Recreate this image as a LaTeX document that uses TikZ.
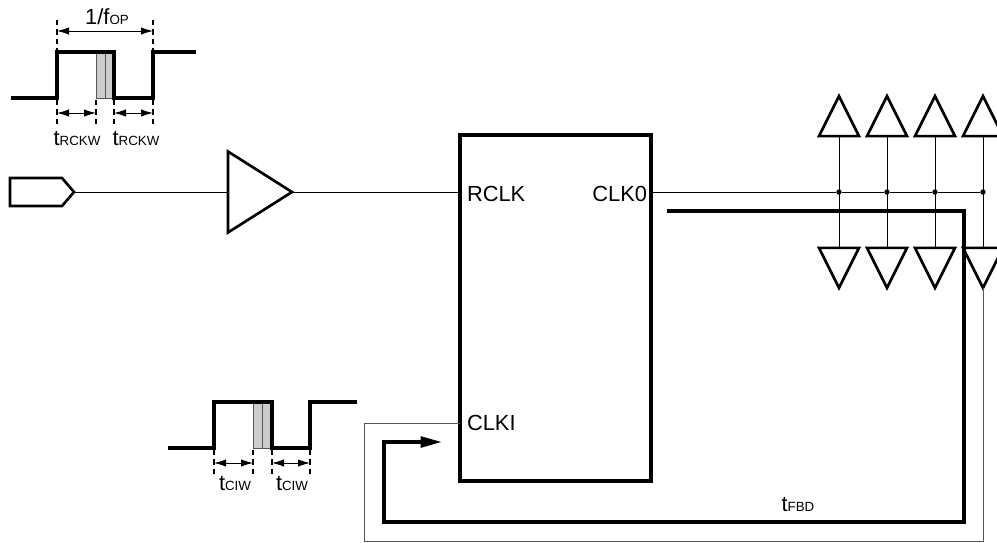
\documentclass[tikz,border=0pt]{standalone}
\usepackage{xcolor}
\usepackage{fontspec}
\setmainfont{Liberation Sans}
\usepackage{tikz}
\usetikzlibrary{arrows.meta,positioning,shapes.geometric,shapes.symbols}
\definecolor{LineGray}{HTML}{555555}
\definecolor{ShadeGray}{HTML}{CCCCCC}
\newcommand{\sigtext}[2]{#1{\fontsize{10pt}{11pt}\selectfont #2}}

\begin{document}
\begin{tikzpicture}[
    x=0.75pt, y=-0.75pt,
    font=\fontsize{16.4pt}{18pt}\selectfont,
    lbl/.style={inner sep=0pt, outer sep=0pt},
    inport/.style={signal, signal to=east, signal from=nowhere, signal pointer angle=99, draw, line width=2pt, inner sep=0pt, outer sep=0pt, minimum width=48pt, minimum height=21pt},
    bufmain/.style={isosceles triangle, isosceles triangle apex angle=64.6, isosceles triangle stretches, draw, line width=2pt, inner sep=0pt, outer sep=0pt, minimum width=60.75pt, minimum height=48pt},
    bufup/.style={isosceles triangle, shape border rotate=90, isosceles triangle apex angle=53.13, isosceles triangle stretches, draw, line width=2pt, inner sep=0pt, outer sep=0pt, minimum width=30pt, minimum height=30pt},
    bufdown/.style={bufup, shape border rotate=270},
    chip/.style={rectangle, draw, line width=2.6pt, inner sep=0pt, outer sep=0pt, minimum width=143.25pt, minimum height=259.5pt},
    junction/.style={circle, fill=black, inner sep=0pt, outer sep=0pt, minimum size=4pt},
    wire/.style={line width=0.7pt},
    loopwire/.style={line width=0.7pt, draw=LineGray},
    wave/.style={line width=2.6pt, line join=miter},
    shade/.style={fill=ShadeGray, draw=LineGray, line width=0.75pt},
    guide/.style={line width=0.8pt, dash pattern=on 4pt off 3pt},
    span/.style={{Latex[length=9pt,width=5.5pt]}-{Latex[length=9pt,width=5.5pt]}, line width=0.7pt},
    feedback/.style={-{Triangle[length=16pt,width=8pt]}, line width=2.6pt}
]
\useasboundingbox (0,0) rectangle (997,543);

% upper waveform
\filldraw[shade] (96,52) rectangle (114,98);
\draw[draw=LineGray, line width=0.75pt] (105,52) -- (105,98);
\draw[wave] (11,98) -- (57,98) -- (57,52) -- (114,52) -- (114,98) -- (153,98) -- (153,52) -- (196,52);
\coordinate (fopa) at (57,31);
\coordinate (fopb) at (153,31);
\coordinate (rwa) at (57,113);
\coordinate (rwb) at (96,113);
\coordinate (rwc) at (114,113);
\coordinate (rwd) at (153,113);
\draw[guide] (57,20) -- (57,52);
\draw[guide] (153,20) -- (153,52);
\draw[guide] (57,100) -- (57,124);
\draw[guide] (96,100) -- (96,124);
\draw[guide] (114,100) -- (114,124);
\draw[guide] (153,100) -- (153,124);
\draw[span] (fopa) -- (fopb);
\draw[span] (rwa) -- (rwb);
\draw[span] (rwc) -- (rwd);
\node[lbl] (fop) at (107,17) {\sigtext{1/f}{OP}};
\node[lbl] (rw1) at (77,139) {\sigtext{t}{RCKW}};
\node[lbl] (rw2) at (136,139) {\sigtext{t}{RCKW}};

% lower waveform
\filldraw[shade] (253,402) rectangle (272,448);
\draw[draw=LineGray, line width=0.75pt] (262,402) -- (262,448);
\draw[wave] (168,448) -- (214,448) -- (214,402) -- (272,402) -- (272,448) -- (310,448) -- (310,402) -- (357,402);
\coordinate (cwa) at (214,463);
\coordinate (cwb) at (253,463);
\coordinate (cwc) at (272,463);
\coordinate (cwd) at (310,463);
\draw[guide] (214,450) -- (214,474);
\draw[guide] (253,450) -- (253,474);
\draw[guide] (272,450) -- (272,474);
\draw[guide] (310,450) -- (310,474);
\draw[span] (cwa) -- (cwb);
\draw[span] (cwc) -- (cwd);
\node[lbl] (cw1) at (235,484) {\sigtext{t}{CIW}};
\node[lbl] (cw2) at (292,484) {\sigtext{t}{CIW}};

% clock path
\node[inport] (in) at (36,192) {};
\node[bufmain, right=115.5pt of in] (bufin) {};
\node[chip] (pll) at (555.5,308) {};
\coordinate (rclkpin) at (pll.west |- bufin.east);
\coordinate (clkopin) at (pll.east |- bufin.east);
\coordinate (clkipin) at (pll.west |- 0,423);
\node[lbl, right=5.25pt of rclkpin, yshift=-1.5pt] (rclk) {RCLK};
\node[lbl, left=3pt of clkopin, yshift=-1.5pt] (clko) {CLK0};
\node[lbl, right=5.25pt of clkipin] (clki) {CLKI};

\node[junction] (d1) at (839,192) {};
\node[junction, right=32pt of d1] (d2) {};
\node[junction, right=32pt of d2] (d3) {};
\node[junction, right=32pt of d3] (d4) {};

\node[bufup, above=39.9pt of d1] (u1) {};
\node[bufup, above=39.9pt of d2] (u2) {};
\node[bufup, above=39.9pt of d3] (u3) {};
\node[bufup, above=39.9pt of d4] (u4) {};
\node[bufdown, below=39.9pt of d1] (v1) {};
\node[bufdown, below=39.9pt of d2] (v2) {};
\node[bufdown, below=39.9pt of d3] (v3) {};
\node[bufdown, below=39.9pt of d4] (v4) {};

\draw[wire] (in.east) -- (bufin.west);
\draw[wire] (bufin.east) -- (rclkpin);
\draw[wire] (clkopin) -- (d1) -- (d2) -- (d3) -- (d4);
\draw[wire] (u1.south) -- (v1.north);
\draw[wire] (u2.south) -- (v2.north);
\draw[wire] (u3.south) -- (v3.north);
\draw[wire] (u4.south) -- (v4.north);

% feedback
\coordinate (lp1) at (983,541);
\coordinate (lp2) at (364,541);
\coordinate (lp3) at (364,423);
\draw[loopwire] (v4.south) -- (lp1) -- (lp2) -- (lp3) -- (clkipin);

\coordinate (fb0) at (667,211);
\coordinate (fb1) at (964,211);
\coordinate (fb2) at (964,522);
\coordinate (fb3) at (384,522);
\coordinate (fb4) at (384,442);
\coordinate (fb5) at (442,442);
\draw[feedback] (fb0) -- (fb1) -- (fb2) -- (fb3) -- (fb4) -- (fb5);
\node[lbl] (fbd) at (798,505) {\sigtext{t}{FBD}};
\end{tikzpicture}
\end{document}
